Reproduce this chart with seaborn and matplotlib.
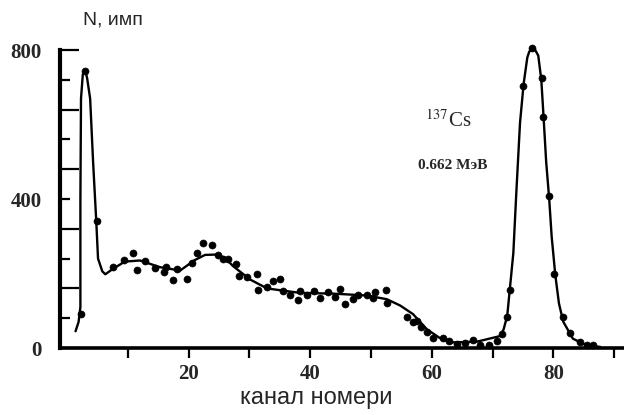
import numpy             as np
import matplotlib
matplotlib.use('Agg')
import matplotlib.pyplot as plt
import seaborn           as sns

# --- данные (канал, N имп) ---
curve_ch = [1.4, 1.9, 2.2, 2.2, 2.3, 2.6, 3.0, 3.3, 3.8, 4.3, 4.8, 5.1, 5.8, 6.3,
            7.5, 9.5, 12.0, 15.3, 18.6, 21.0, 22.7, 24.7, 26.0, 27.3, 30.1, 32.9,
            38.3, 43.8, 49.3, 52.6, 54.8, 56.9, 59.2, 61.3, 63.0, 67.4, 71.2,
            71.8, 72.4, 73.4, 73.9, 74.5, 75.1, 75.7, 76.0, 76.5, 77.0, 77.5,
            78.0, 78.3, 78.8, 79.3, 79.7, 80.3, 80.9, 81.6, 83.2, 85.5, 87.7]
curve_n  = [45, 70, 110, 400, 670, 735, 745, 725, 670, 496, 343, 240, 206, 198,
            212, 232, 235, 217, 208, 236, 250, 251, 242, 220, 184, 160,
            148, 146, 141, 131, 114, 91, 50, 27, 15, 17, 32,
            50, 87, 255, 420, 605, 710, 780, 795, 806, 800, 785,
            720, 640, 500, 400, 300, 196, 120, 71, 25, 7, 3]

pts_ch = [2.3, 3.0, 4.9, 7.6, 9.4, 10.9, 11.5, 12.8, 14.5, 16.0, 16.3, 17.4, 18.1,
          19.7, 20.6, 21.4, 22.4, 23.8, 24.8, 25.7, 26.5, 27.8, 28.3, 29.6, 31.3,
          31.4, 32.9, 33.9, 35.0, 35.5, 36.7, 38.0, 38.3, 39.5, 40.6, 41.6, 42.9,
          44.1, 44.9, 45.7, 47.0, 47.9, 49.3, 50.3, 50.7, 52.5, 52.6, 55.9, 56.9,
          57.6, 58.2, 59.2, 60.2, 61.8, 62.8, 64.1, 65.5, 66.8, 67.9, 69.4, 70.7,
          71.5, 72.4, 72.9, 75.0, 76.5, 78.1, 78.3, 79.3, 80.1, 81.6, 82.7, 84.4,
          85.5, 86.5]
pts_n  = [90, 745, 340, 217, 235, 254, 209, 234, 214, 205, 218, 183, 212,
          184, 228, 256, 282, 276, 251, 240, 239, 225, 193, 192, 198,
          156, 165, 180, 185, 153, 143, 130, 153, 142, 154, 135, 150,
          136, 159, 118, 131, 143, 142, 133, 151, 155, 121, 84, 70,
          72, 56, 44, 28, 26, 18, 11, 13, 22, 8, 7, 19,
          37, 84, 157, 704, 806, 726, 620, 408, 199, 84, 39, 16,
          7, 9]

x_major = [20, 40, 60, 80]
x_minor = [10, 30, 50, 70, 90]
y_major = [0, 160, 320, 480, 640, 800]
y_minor = [80, 240, 400, 560, 720]

sns.set_style('white')
plt.rcParams['font.family'] = ['Liberation Sans', 'DejaVu Sans']
plt.rcParams['mathtext.fontset'] = 'stix'

fig = plt.figure(figsize=(6.24, 4.15), dpi=100)
ax  = fig.add_axes([0.0962, 0.1614, 0.9038, 0.718])

sns.lineplot(x=curve_ch, y=curve_n, sort=False, estimator=None,
             color='black', lw=1.7, ax=ax, clip_on=False)
sns.scatterplot(x=pts_ch, y=pts_n, color='black', edgecolor='black',
                s=26, ax=ax, clip_on=False, zorder=3)

ax.set_xlim(-1.15, 91.6)
ax.set_ylim(0, 800)

for s in ['top', 'right']:
    ax.spines[s].set_visible(False)
ax.spines['left'].set_linewidth(3.0)
ax.spines['bottom'].set_linewidth(2.6)
ax.spines['left'].set_color('black')
ax.spines['bottom'].set_color('black')

lab_font = dict(family='Liberation Serif', weight='bold', size=15)

ax.set_xticks(x_major)
ax.set_xticks(x_minor, minor=True)
ax.set_xticklabels([str(v) for v in x_major], fontdict=lab_font)
ax.tick_params(axis='x', which='both', direction='out', length=7.5, width=1.6,
               color='black', pad=4, bottom=True)

ax.set_yticks(y_major)
ax.set_yticklabels(['0', '', '', '', '', '800'], fontdict=lab_font)
ax.set_yticks(y_minor, minor=True)
ax.set_yticklabels(['', '', '400', '', ''], minor=True, fontdict=lab_font)
ax.tick_params(axis='y', which='major', direction='in', length=14, width=1.6,
               color='black', pad=13, left=True)
ax.tick_params(axis='y', which='minor', direction='in', length=7, width=1.6,
               color='black', pad=13, left=True)

ax.set_xlabel('канал номери', fontsize=17, family=['Liberation Sans', 'DejaVu Sans'])
ax.xaxis.set_label_coords(0.455, -0.13)
ax.set_ylabel('')

ax.text(0.041, 1.10, 'N, имп', transform=ax.transAxes, fontsize=14,
        ha='left', va='center', family=['Liberation Sans', 'DejaVu Sans'])

ax.text(0.688, 0.762, r'$^{137}$Cs', transform=ax.transAxes, fontsize=15,
        ha='center', va='center', family='Liberation Serif')
ax.text(0.697, 0.611, '0.662 МэВ', transform=ax.transAxes, fontsize=11,
        ha='center', va='center', family='Liberation Serif', weight='bold')

fig.savefig('out.png', dpi=100, facecolor='white')
